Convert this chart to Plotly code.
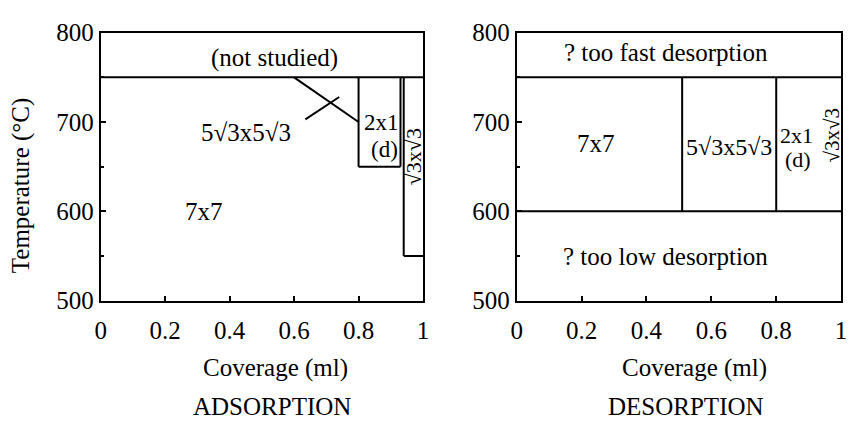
import plotly.graph_objects as go

# ---- Adsorption phase diagram (coverage in ml, temperature in °C) ----
ads_segments = [
    # (x0, y0, x1, y1)
    (0.0, 750, 1.0, 750),      # upper limit of studied range
    (0.6, 750, 0.8, 700),      # 7x7 / 5√3x5√3 boundary
    (0.8, 750, 0.8, 650),      # 2x1 (d) box, left
    (0.8, 650, 0.93, 650),     # 2x1 (d) box, bottom
    (0.93, 650, 0.93, 750),    # 2x1 (d) box, right
    (0.94, 750, 0.94, 550),    # √3x√3 box, left
    (0.94, 550, 1.0, 550),     # √3x√3 box, bottom
    (0.635, 703, 0.74, 728),   # pointer for the 5√3x5√3 label
]
ads_labels = ["(not studied)", "5√3x5√3", "7x7", "2x1", "(d)", "√3x√3"]
ads_label_x = [0.54, 0.45, 0.32, 0.87, 0.88, 0.97]
ads_label_y = [772, 688, 600, 699, 669, 661]
ads_label_angle = [0, 0, 0, 0, 0, -90]
ads_label_size = [25, 25, 25, 23, 23, 22]

# ---- Desorption phase diagram ----
des_segments = [
    (0.0, 750, 1.0, 750),
    (0.0, 600, 1.0, 600),
    (0.51, 750, 0.51, 600),
    (0.80, 750, 0.80, 600),
]
des_labels = ["? too fast desorption", "7x7", "5√3x5√3", "2x1", "(d)", "√3x√3",
              "? too low desorption"]
des_label_x = [0.46, 0.245, 0.655, 0.862, 0.868, 0.972, 0.46]
des_label_y = [778, 676, 672, 685, 658, 685, 550]
des_label_angle = [0, 0, 0, 0, 0, -90, 0]
des_label_size = [25, 25, 24, 22, 22, 21, 25]

x_ticks = [0, 0.2, 0.4, 0.6, 0.8, 1]
x_tick_text = ["0", "0.2", "0.4", "0.6", "0.8", "1"]
y_ticks = [500, 600, 700, 800]

FONT = "Liberation Serif"
fig = go.Figure()


def add_segments(segments, xa, ya):
    xs, ys = [], []
    for x0, y0, x1, y1 in segments:
        xs += [x0, x1, None]
        ys += [y0, y1, None]
    fig.add_trace(go.Scatter(x=xs, y=ys, mode="lines", xaxis=xa, yaxis=ya,
                             line=dict(color="black", width=2),
                             hoverinfo="skip", showlegend=False))


def add_labels(texts, xs, ys, angles, sizes, xref, yref):
    for t, x, y, a, s in zip(texts, xs, ys, angles, sizes):
        fig.add_annotation(text=t, x=x, y=y, xref=xref, yref=yref,
                           textangle=a, showarrow=False, borderpad=0,
                           font=dict(family=FONT, size=s, color="black"))


add_segments(ads_segments, "x", "y")
add_segments(des_segments, "x2", "y2")
add_labels(ads_labels, ads_label_x, ads_label_y, ads_label_angle,
           ads_label_size, "x", "y")
add_labels(des_labels, des_label_x, des_label_y, des_label_angle,
           des_label_size, "x2", "y2")

axis_common = dict(showline=True, linecolor="black", linewidth=2, mirror=True,
                   showgrid=False, zeroline=False, ticks="inside", ticklen=5,
                   tickwidth=1.5, tickcolor="black",
                   tickfont=dict(family=FONT, size=25, color="black"))

xdom1 = [96 / 854, 423 / 854]
xdom2 = [518 / 854, 847 / 854]
ydom = [1 - 307 / 430, 1 - 21 / 430]

fig.update_layout(
    width=854, height=430,
    margin=dict(l=0, r=0, t=0, b=0),
    paper_bgcolor="white", plot_bgcolor="white",
    xaxis=dict(domain=xdom1, range=[0, 1], tickvals=x_ticks,
               ticktext=x_tick_text, anchor="y", ticklabelstandoff=6,
               **axis_common),
    yaxis=dict(domain=ydom, range=[500, 800], tickvals=y_ticks, anchor="x",
               minor=dict(dtick=50, ticks="inside", ticklen=3,
                          tickcolor="black"),
               **axis_common),
    xaxis2=dict(domain=xdom2, range=[0, 1], tickvals=x_ticks,
                ticktext=x_tick_text, anchor="y2", ticklabelstandoff=6,
                **axis_common),
    yaxis2=dict(domain=ydom, range=[500, 800], tickvals=y_ticks, anchor="x2",
                minor=dict(dtick=50, ticks="inside", ticklen=3,
                           tickcolor="black"),
                **axis_common),
)

# axis titles (positions in pixels of the 854x430 page)
title_font = dict(family=FONT, size=25, color="black")
titles = [
    ("Coverage (ml)", 273, 379, 0),
    ("Coverage (ml)", 698, 379, 0),
    ("Temperature (°C)", 16, 184, -90),
]
for text, px, py, ang in titles:
    fig.add_annotation(text=text, x=px / 854, y=1 - py / 430, xref="paper",
                       yref="paper", showarrow=False, textangle=ang,
                       xanchor="center", yanchor="middle", borderpad=0,
                       font=title_font)

# panel captions, sitting on the bottom edge of the page
for text, px in [("ADSORPTION", 270), ("DESORPTION", 690)]:
    fig.add_annotation(text=text, x=px / 854, y=0, xref="paper", yref="paper",
                       showarrow=False, xanchor="center", yanchor="bottom",
                       yshift=-5, borderpad=0, font=title_font)

fig.write_html("out.html")
